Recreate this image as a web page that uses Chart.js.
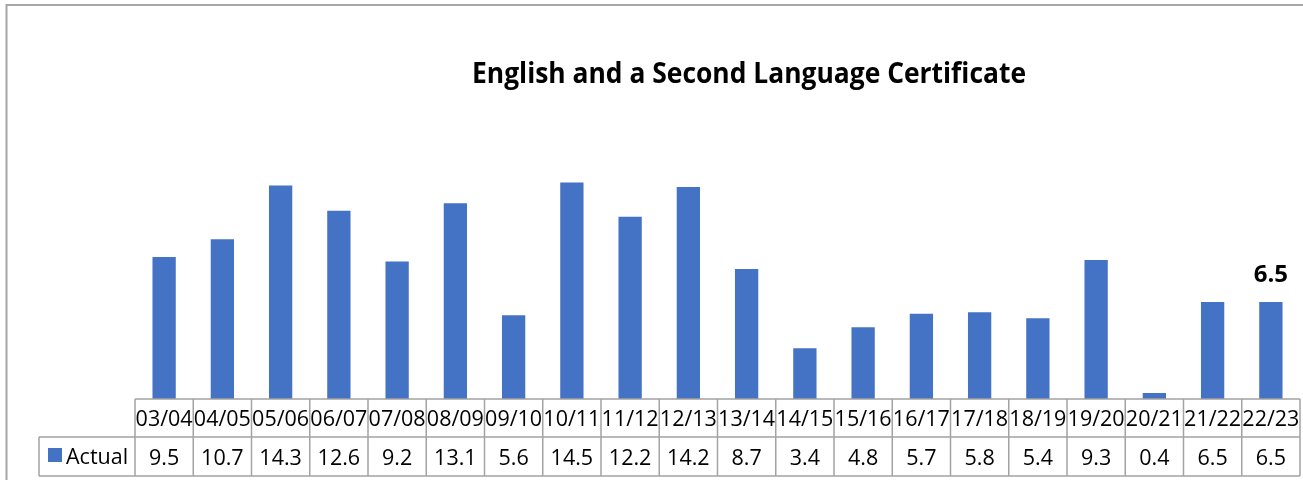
<!DOCTYPE html>
<html>
<head>
<meta charset="utf-8">
<script src="https://cdn.jsdelivr.net/npm/chart.js@4.4.1/dist/chart.umd.min.js"></script>
<style>
  html, body { margin: 0; padding: 0; background: #ffffff; }
  #wrap { width: 1303px; height: 480px; }
</style>
</head>
<body>
<div id="wrap"><canvas id="c" width="1303" height="480"></canvas></div>
<script>
// Academic years shown along the category axis
const years = ['03/04','04/05','05/06','06/07','07/08','08/09','09/10','10/11','11/12','12/13',
               '13/14','14/15','15/16','16/17','17/18','18/19','19/20','20/21','21/22','22/23'];
// Certificates awarded per year
const actual = [9.5, 10.7, 14.3, 12.6, 9.2, 13.1, 5.6, 14.5, 12.2, 14.2,
                8.7, 3.4, 4.8, 5.7, 5.8, 5.4, 9.3, 0.4, 6.5, 6.5];
const seriesName = 'Actual';
const chartTitle = 'English and a Second Language Certificate';

const FONT = '"Open Sans", "DejaVu Sans", sans-serif';
const BAR = '#4472C4';
const GRID = '#a3a3a3';

// Chart frame, title, value label and the data table below the axis
const tablePlugin = {
  id: 'tablePlugin',
  afterDraw(chart) {
    const ctx = chart.ctx;
    const area = chart.chartArea;
    const xs = chart.scales.x;
    const n = years.length;
    const colW = (area.right - area.left) / n;
    const row1Top = area.bottom;
    const row1Bot = row1Top + 38;
    const row2Bot = row1Bot + 39;
    const legendLeft = 39;

    ctx.save();

    // outer frame (top and left edges)
    ctx.strokeStyle = '#a6a6a6';
    ctx.lineWidth = 2;
    ctx.beginPath();
    ctx.moveTo(6.5, 480);
    ctx.lineTo(6.5, 5);
    ctx.lineTo(1303, 5);
    ctx.stroke();

    // title: a condensed bold line spanning 554px
    ctx.fillStyle = '#000000';
    ctx.font = 'bold 29px ' + FONT;
    ctx.textAlign = 'center';
    ctx.textBaseline = 'alphabetic';
    const tw = ctx.measureText(chartTitle).width;
    ctx.save();
    ctx.translate(749, 83);
    ctx.scale(554 / tw, 1);
    ctx.fillText(chartTitle, 0, 0);
    ctx.restore();

    // value label on the latest year
    const meta = chart.getDatasetMeta(0);
    const last = meta.data[n - 1];
    ctx.font = 'bold 24px ' + FONT;
    ctx.fillText(String(actual[n - 1]), last.x, last.y - 20);

    // table grid
    ctx.strokeStyle = GRID;
    ctx.lineWidth = 1.5;
    ctx.beginPath();
    // horizontal rules
    ctx.moveTo(area.left, row1Top); ctx.lineTo(area.right, row1Top);
    ctx.moveTo(legendLeft, row1Bot); ctx.lineTo(area.right, row1Bot);
    ctx.moveTo(legendLeft, row2Bot); ctx.lineTo(area.right, row2Bot);
    // legend cell left edge
    ctx.moveTo(legendLeft, row1Bot); ctx.lineTo(legendLeft, row2Bot);
    // column separators
    for (let i = 0; i <= n; i++) {
      const cx = i < n ? xs.getPixelForValue(i) - colW / 2 : xs.getPixelForValue(n - 1) + colW / 2;
      ctx.moveTo(cx, row1Top); ctx.lineTo(cx, row2Bot);
    }
    ctx.stroke();

    // header labels and values
    ctx.fillStyle = '#000000';
    ctx.font = '21.5px ' + FONT;
    ctx.textAlign = 'center';
    for (let i = 0; i < n; i++) {
      const cx = xs.getPixelForValue(i);
      ctx.fillText(years[i], cx, row1Top + 27);
      ctx.fillText(actual[i].toFixed(1), cx, row1Bot + 28);
    }

    // legend key and series name
    ctx.fillStyle = BAR;
    ctx.fillRect(48, row1Bot + 11, 14, 14);
    ctx.fillStyle = '#000000';
    ctx.textAlign = 'left';
    ctx.fillText(seriesName, 66, row1Bot + 27);

    ctx.restore();
  }
};

new Chart(document.getElementById('c'), {
  type: 'bar',
  data: {
    labels: years,
    datasets: [{
      label: seriesName,
      data: actual,
      backgroundColor: BAR,
      borderWidth: 0,
      barPercentage: 0.4,
      categoryPercentage: 1.0
    }]
  },
  options: {
    responsive: false,
    animation: false,
    devicePixelRatio: 1,
    layout: { padding: { left: 135, right: 3, top: 160, bottom: 81 } },
    plugins: {
      legend: { display: false },
      title: { display: false },
      tooltip: { enabled: false }
    },
    scales: {
      x: { display: false, offset: true, grid: { display: false } },
      y: { display: false, min: 0, max: 16 }
    }
  },
  plugins: [tablePlugin]
});
</script>
</body>
</html>
